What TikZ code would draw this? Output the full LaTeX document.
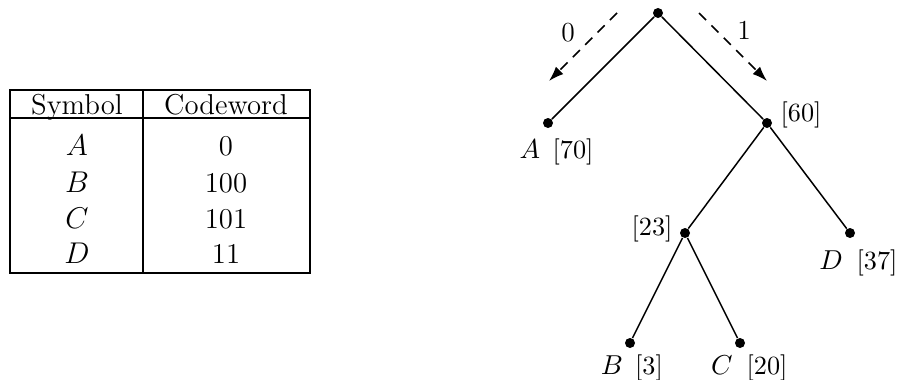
\documentclass[tikz,border=0pt]{standalone}
\usepackage{amsmath}
\usepackage{tikz}
\usetikzlibrary{arrows.meta}

\begin{document}
\begin{tikzpicture}[
  x=0.4pt, y=-0.4pt,
  font=\normalsize,
  vertex/.style={circle, fill=black, inner sep=0pt, minimum size=4pt},
  edge/.style={line width=0.6pt, draw=black},
  tag/.style={anchor=base, inner sep=0pt, font=\fontsize{10.5}{12.5}\selectfont},
  cell/.style={anchor=base, inner sep=0pt, font=\fontsize{11.5}{14}\selectfont},
  bit/.style={anchor=base, inner sep=0pt, font=\fontsize{11}{13}\selectfont},
  rule/.style={line width=0.6pt, draw=black},
  bitflow/.style={-{Latex[length=6pt,width=4.2pt]}, line width=0.6pt, dash pattern=on 4pt off 3pt}
]
\useasboundingbox (0,0) rectangle (908,380);

% code table
\coordinate (tabnw) at (10,90);
\coordinate (tabse) at (310,273);
\draw[rule] (tabnw) rectangle (tabse);
\draw[rule] (10,118) -- (310,118);
\draw[rule] (143,90) -- (143,273);

\node[cell] (headsym) at (77,114) {Symbol};
\node[cell] (headcode) at (226,114) {Codeword};

\node[cell] (symA) at (77,155) {$A$};
\node[cell] (codeA) at (226,155) {0};
\node[cell] (symB) at (77,192) {$B$};
\node[cell] (codeB) at (226,192) {100};
\node[cell] (symC) at (77,228) {$C$};
\node[cell] (codeC) at (226,228) {101};
\node[cell] (symD) at (77,263) {$D$};
\node[cell] (codeD) at (226,263) {11};

% code tree
\node[vertex] (root) at (658,13) {};
\node[vertex] (leafA) at (548,123) {};
\node[vertex] (inner60) at (767,123) {};
\node[vertex] (inner23) at (685,233) {};
\node[vertex] (leafD) at (850,233) {};
\node[vertex] (leafB) at (630,343) {};
\node[vertex] (leafC) at (740,343) {};

\draw[edge] (root) -- (leafA);
\draw[edge] (root) -- (inner60);
\draw[edge] (inner60) -- (inner23);
\draw[edge] (inner60) -- (leafD);
\draw[edge] (inner23) -- (leafB);
\draw[edge] (inner23) -- (leafC);

\node[tag] (nameA) at (530,158) {$A$};
\node[tag] (wtA) at (573,158) {[70]};
\node[tag] (wt60) at (801,121) {[60]};
\node[tag] (wt23) at (652,235) {[23]};
\node[tag] (nameD) at (831,269) {$D$};
\node[tag] (wtD) at (877,269) {[37]};
\node[tag] (nameB) at (612,374) {$B$};
\node[tag] (wtB) at (649,374) {[3]};
\node[tag] (nameC) at (722,374) {$C$};
\node[tag] (wtC) at (767,374) {[20]};

% branch bits
\coordinate (zerostart) at (617,13);
\coordinate (zeroend) at (549,81);
\coordinate (onestart) at (699,13);
\coordinate (oneend) at (767,81);
\draw[bitflow] (zerostart) -- (zeroend);
\draw[bitflow] (onestart) -- (oneend);
\node[bit] (bitzero) at (568,42) {0};
\node[bit] (bitone) at (744,40) {1};

\end{tikzpicture}
\end{document}
